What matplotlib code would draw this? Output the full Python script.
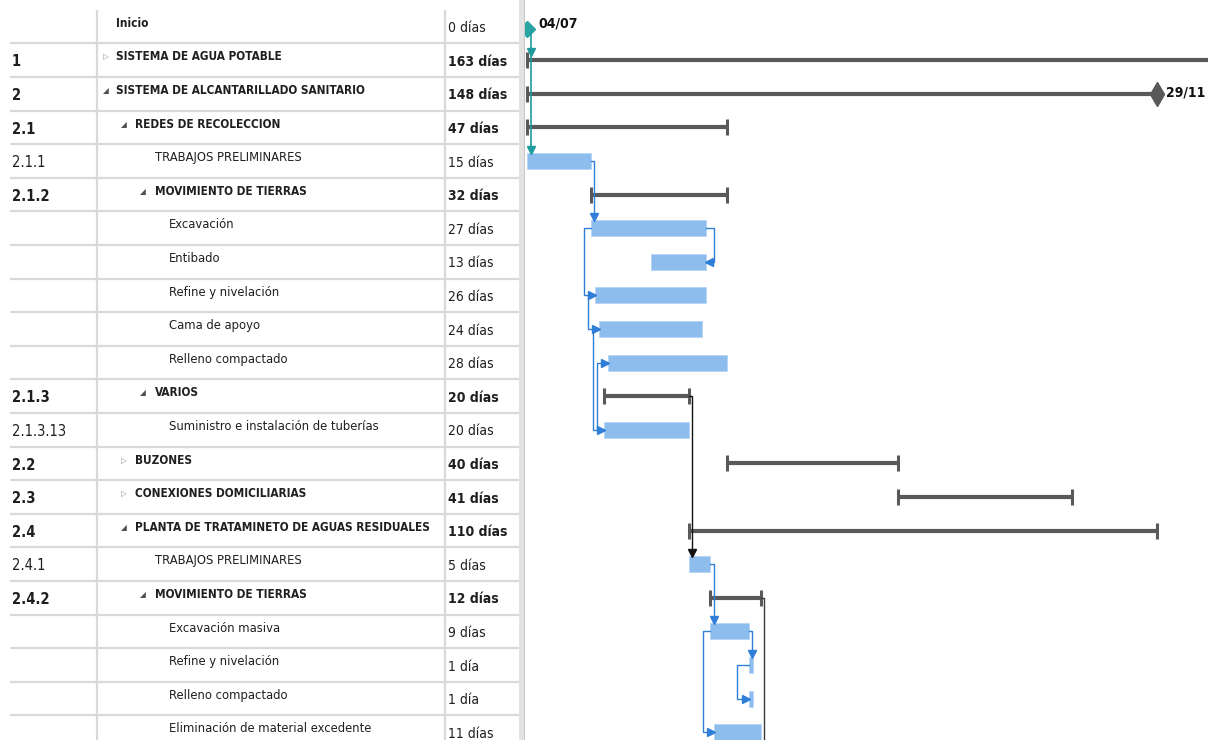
import matplotlib
matplotlib.use("Agg")
import matplotlib.pyplot as plt
from matplotlib.patches import Rectangle

plt.rcParams['font.family'] = ['DejaVu Sans']
plt.rcParams['font.stretch'] = 'condensed'

# Schedule table
ids = ["", "1", "2", "2.1", "2.1.1", "2.1.2", "", "", "", "", "", "2.1.3",
       "2.1.3.13", "2.2", "2.3", "2.4", "2.4.1", "2.4.2", "", "", "", ""]
names = ["Inicio", "SISTEMA DE AGUA POTABLE", "SISTEMA DE ALCANTARILLADO SANITARIO",
         "REDES DE RECOLECCION", "TRABAJOS PRELIMINARES", "MOVIMIENTO DE TIERRAS",
         "Excavación", "Entibado", "Refine y nivelación", "Cama de apoyo",
         "Relleno compactado", "VARIOS", "Suministro e instalación de tuberías",
         "BUZONES", "CONEXIONES DOMICILIARIAS",
         "PLANTA DE TRATAMINETO DE AGUAS RESIDUALES", "TRABAJOS PRELIMINARES",
         "MOVIMIENTO DE TIERRAS", "Excavación masiva", "Refine y nivelación",
         "Relleno compactado", "Eliminación de material excedente"]
levels = [1, 1, 1, 2, 3, 3, 4, 4, 4, 4, 4, 3, 4, 2, 2, 2, 3, 3, 4, 4, 4, 4]
kinds = ["milestone", "summary", "summary", "summary", "task", "summary",
         "task", "task", "task", "task", "task", "summary", "task",
         "summary", "summary", "summary", "task", "summary",
         "task", "task", "task", "task"]
toggles = ["", "▷", "◢", "◢", "", "◢", "", "", "", "", "", "◢", "",
           "▷", "▷", "◢", "", "◢", "", "", "", ""]
starts = [0, 0, 0, 0, 0, 15, 15, 29, 16, 17, 19, 18, 18, 47, 87, 38, 38, 43, 43, 52, 52, 44]
durations = [0, 163, 148, 47, 15, 32, 27, 13, 26, 24, 28, 20, 20, 40, 41, 110, 5, 12, 9, 1, 1, 11]
start_label = "04/07"
finish_label = "29/11"

# dependencies: (predecessor, successor, type)
links = [(4, 6, "FS"), (6, 7, "FF"), (6, 8, "SS"), (8, 9, "SS"), (9, 12, "SS"),
         (12, 10, "SS"), (11, 16, "FS"), (16, 18, "FS"), (18, 19, "FS"),
         (19, 20, "SS"), (18, 21, "SS")]

W, H = 1208, 740
fig = plt.figure(figsize=(W / 100, H / 100), dpi=100)
fig.patch.set_facecolor("white")

n = len(names)
y0, dy = 26.6, 33.6          # pixel centre of first row, row pitch
ylim = ((H - y0) / dy, -y0 / dy)

# ---- table -----------------------------------------------------------
tab = fig.add_axes([0, 0, 519 / W, 1])
tab.set_xlim(0, 519)
tab.set_ylim(*ylim)
tab.axis("off")

grid = "#D9D9D9"
for k in range(n - 1):
    tab.hlines(k + 0.5, 10, 519, color=grid, lw=1.6)
top = (10 - y0) / dy
for xv in (97, 445):
    tab.vlines(xv, top, ylim[0], color=grid, lw=1.6)

name_x = {1: 116, 2: 135, 3: 155, 4: 169}
tri_x = {1: 103, 2: 121, 3: 140}
ink = "#1F1F1F"
for i in range(n):
    is_sum = kinds[i] == "summary"
    bold = kinds[i] != "task"
    tab.text(12, i + 0.05, ids[i], fontsize=10.5, fontweight="bold" if is_sum else "normal",
             color=ink, va="center", ha="left")
    tab.text(name_x[levels[i]], i - 0.1, names[i], fontsize=8.5 if bold else 9.3,
             fontweight="bold" if bold else "normal", color=ink, va="center", ha="left")
    if toggles[i]:
        tab.text(tri_x[levels[i]], i - 0.1, toggles[i], fontsize=6,
                 color="#8C8C8C" if toggles[i] == "▷" else "#4D4D4D",
                 va="center", ha="left")
    d = durations[i]
    dtxt = f"{d} día" if d == 1 else f"{d} días"
    tab.text(448, i + 0.05, dtxt, fontsize=10,
             fontweight="bold" if is_sum else "normal",
             color=ink, va="center", ha="left")

# ---- gantt -----------------------------------------------------------
gx0, px_day, day0_px = 524, 4.26, 527
gan = fig.add_axes([gx0 / W, 0, (W - gx0) / W, 1])
gan.set_xlim((gx0 - day0_px) / px_day, (W - day0_px) / px_day)
gan.set_ylim(*ylim)
gan.axis("off")

bar_c = "#8DBDEC"
sum_c = "#595959"
link_c = "#2F7ED8"
teal = "#1E9A9E"
ends = [s + d for s, d in zip(starts, durations)]

for i in range(n):
    if kinds[i] == "task":
        gan.barh(i, durations[i], left=starts[i], height=0.48, color=bar_c,
                 edgecolor="#B5D4F4", lw=0.6, zorder=2)
    elif kinds[i] == "summary":
        gan.hlines(i, starts[i], ends[i], color=sum_c, lw=3.0, zorder=2)
        gan.vlines(starts[i], i - 0.24, i + 0.24, color=sum_c, lw=2.2, zorder=2)
        if i == 2:
            gan.plot(ends[i], i, marker="d", ms=12, color=sum_c, zorder=3)
            gan.annotate(finish_label, (ends[i], i), xytext=(6, 1), textcoords="offset points",
                         fontsize=10, fontweight="bold", color="#111111", va="center")
        else:
            gan.vlines(ends[i], i - 0.24, i + 0.24, color=sum_c, lw=2.2, zorder=2)
    else:
        gan.plot(starts[i], i + 0.08, marker="D", ms=8, color="#2AA3A3", zorder=3)
        gan.annotate(start_label, (starts[i], i), xytext=(8, 2), textcoords="offset points",
                     fontsize=10, fontweight="bold", color="#111111", va="center")


def bar_top(i):
    return i - (0.15 if kinds[i] == "summary" else 0.25)


def arrow(x, y, mk, c, dx=0.0, dyr=0.0):
    gan.plot(x + dx, y + dyr, marker=mk, ms=5.5, color=c, mec=c, zorder=4, lw=0)


# start milestone feeding the first rows
tx = starts[0] + 0.9
gan.vlines(tx, 0.1, bar_top(4) - 0.1, color=teal, lw=1.2, zorder=3)
for s in (1, 4):
    arrow(tx, bar_top(s), "v", teal, dyr=-0.09)

for p, s, kind in links:
    c = "#111111" if kinds[p] == "summary" else link_c
    if kind == "FS":
        x = ends[p] + 0.8
        gan.plot([ends[p], x, x], [p, p, bar_top(s) - 0.1], color=c, lw=1.0, zorder=3)
        arrow(x, bar_top(s), "v", c, dyr=-0.09)
    elif kind == "FF":
        x = ends[p] + 2.0
        gan.plot([ends[p], x, x, ends[s] + 0.5], [p, p, s, s], color=c, lw=1.0, zorder=3)
        arrow(ends[s], s, "<", c, dx=0.7)
    else:
        x = starts[p] - (2.6 if starts[p] > 40 and durations[p] == 1 else 1.6)
        gan.plot([starts[p], x, x, starts[s] - 0.5], [p, p, s, s], color=c, lw=1.0, zorder=3)
        arrow(starts[s], s, ">", c, dx=-0.7)

# 2.4.2 summary continues to a successor below the visible rows
x = ends[17] + 0.7
gan.plot([ends[17], x, x], [17, 17, n + 1], color="#3A3A3A", lw=1.0, zorder=3)

# divider between table and chart
fig.add_artist(Rectangle((519 / W, 0), 5 / W, 1, transform=fig.transFigure,
                         facecolor="#E3E3E3", edgecolor="none", zorder=5))
fig.add_artist(Rectangle((523.5 / W, 0), 1 / W, 1, transform=fig.transFigure,
                         facecolor="#C8C8C8", edgecolor="none", zorder=5))

fig.savefig("out.png", dpi=100)
